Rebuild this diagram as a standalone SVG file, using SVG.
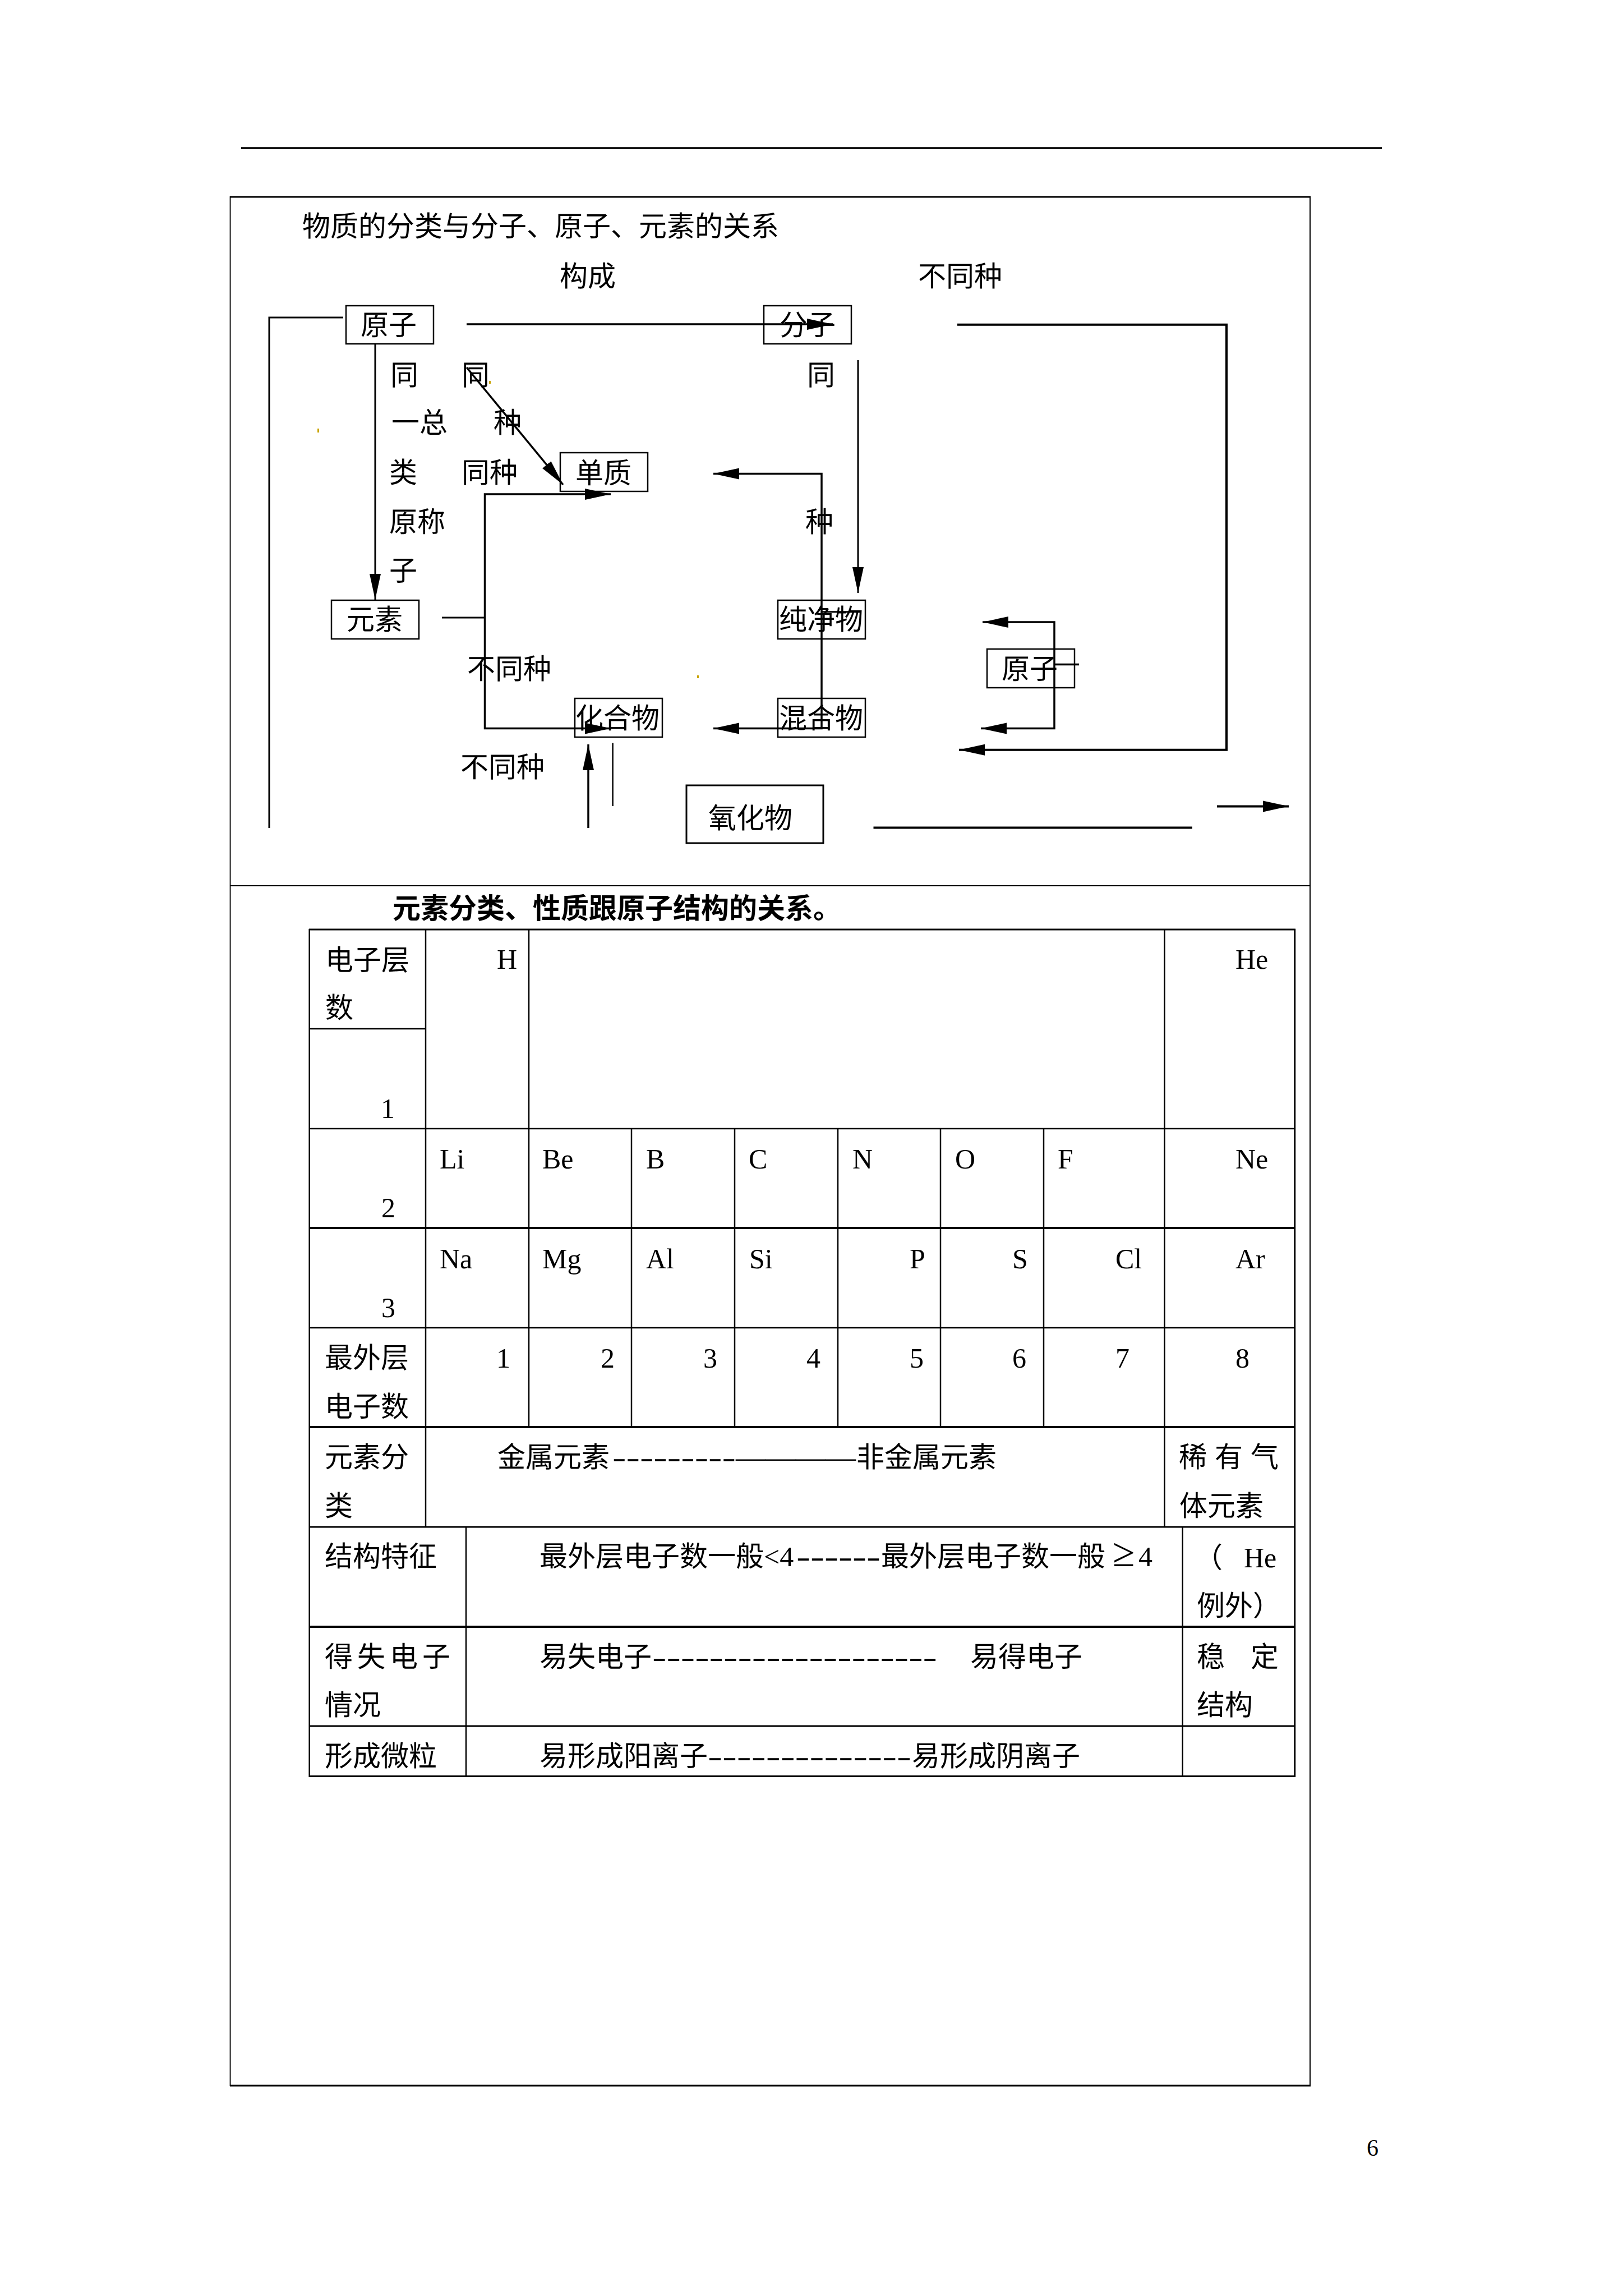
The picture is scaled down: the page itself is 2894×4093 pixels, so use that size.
<svg xmlns="http://www.w3.org/2000/svg" width="2894" height="4093" viewBox="0 0 2894 4093">
<style>
.t{font-family:"Liberation Serif","Noto Sans CJK SC",serif;font-size:50px;fill:#000}
.b{font-weight:bold}
.box{fill:none;stroke:#000;stroke-width:2.5}
.ln{fill:none;stroke:#000;stroke-width:3.5}
.th{fill:none;stroke:#000;stroke-width:2.5}
.tb{stroke:#000;stroke-width:2.5}
.tk{stroke:#000;stroke-width:3.8}
</style>
<defs>
<marker id="ah" markerUnits="userSpaceOnUse" markerWidth="48" markerHeight="22" refX="46" refY="11" orient="auto">
<path d="M0,1 L46,11 L0,21 z" fill="#000"/>
</marker>
</defs>
<rect x="0" y="0" width="2894" height="4093" fill="#fff"/>
<g id="page">
<line x1="430" y1="264" x2="2464" y2="264" stroke="#000" stroke-width="3.5"/>
<line x1="410" y1="351" x2="2337" y2="351" stroke="#000" stroke-width="3"/>
<line x1="410" y1="3718" x2="2337" y2="3718" stroke="#000" stroke-width="3"/>
<line x1="410.5" y1="350" x2="410.5" y2="3719" stroke="#000" stroke-width="1.8"/>
<line x1="2336" y1="350" x2="2336" y2="3719" stroke="#000" stroke-width="2"/>
<line x1="410" y1="1579" x2="2336" y2="1579" stroke="#000" stroke-width="2.2"/>
<text class="t" x="2437" y="3843" style="font-size:42px">6</text>
<rect x="566" y="764" width="3" height="7" fill="#c9a400"/>
<rect x="872" y="679" width="3" height="5" fill="#c9a400"/>
<rect x="1243" y="1204" width="3" height="5" fill="#c9a400"/>
</g>
<g id="section1-labels">
<text class="t" x="539" y="421">物质的分类与分子、原子、元素的关系</text>
<text class="t" x="998" y="510">构成</text>
<text class="t" x="1637" y="510">不同种</text>
<text class="t" x="696" y="686">同</text>
<text class="t" x="698" y="771">一总</text>
<text class="t" x="694" y="860">类</text>
<text class="t" x="694" y="948">原称</text>
<text class="t" x="694" y="1035">子</text>
<text class="t" x="823" y="686">同</text>
<text class="t" x="880" y="771">种</text>
<text class="t" x="823" y="860">同种</text>
<text class="t" x="1439" y="686">同</text>
<text class="t" x="1436" y="948">种</text>
<text class="t" x="833" y="1210">不同种</text>
<text class="t" x="821" y="1385">不同种</text>
</g>
<g id="node-yuanzi">
<rect class="box" x="617" y="545" width="156" height="68"/>
<text class="t" x="643" y="597">原子</text>
</g>
<g id="node-fenzi">
<rect class="box" x="1362" y="545" width="156" height="68"/>
<text class="t" x="1390" y="597">分子</text>
</g>
<g id="node-danzhi">
<rect class="box" x="999" y="807" width="156" height="69"/>
<text class="t" x="1026" y="861">单质</text>
</g>
<g id="node-yuansu">
<rect class="box" x="591" y="1070" width="156" height="69"/>
<text class="t" x="618" y="1122">元素</text>
</g>
<g id="node-chunjingwu">
<rect class="box" x="1387" y="1070" width="156" height="69"/>
<text class="t" x="1389" y="1122">纯净物</text>
</g>
<g id="node-huahewu">
<rect class="box" x="1025" y="1245" width="156" height="69"/>
<text class="t" x="1026" y="1298">化合物</text>
</g>
<g id="node-hunhewu">
<rect class="box" x="1387" y="1245" width="156" height="69"/>
<text class="t" x="1389" y="1298">混合物</text>
</g>
<g id="node-yanghuawu">
<rect class="box" x="1224" y="1400" width="244" height="103" style="stroke-width:3"/>
<text class="t" x="1263" y="1476">氧化物</text>
</g>
<g id="node-yuanzi2">
<rect class="box" x="1760" y="1157" width="156" height="69"/>
<text class="t" x="1786" y="1210">原子</text>
</g>
<g id="connectors">
<path class="ln" d="M832,578 H1485" marker-end="url(#ah)"/>
<path class="ln" style="stroke-width:3" d="M612,566 H480 V1476"/>
<path class="ln" style="stroke-width:3" d="M669,613 V1069" marker-end="url(#ah)"/>
<path class="ln" d="M832,655 L1004,864" marker-end="url(#ah)"/>
<path class="ln" d="M864.5,1100 V881 H1089" marker-end="url(#ah)"/>
<path class="ln" d="M864.5,1100 V1298.5 H1089" marker-end="url(#ah)"/>
<path class="ln" style="stroke-width:3" d="M788,1101 H864.5"/>
<path class="ln" d="M1465,1090 V844.5 H1272" marker-end="url(#ah)"/>
<path class="ln" d="M1465,1090 V1298.5 H1272" marker-end="url(#ah)"/>
<path class="ln" style="stroke-width:3" d="M1465,1090.7 H1535"/>
<path class="ln" style="stroke-width:3" d="M1530,642 V1057" marker-end="url(#ah)"/>
<path class="ln" style="stroke-width:4" d="M1707,578.8 H2187 V1336.7 H1710" marker-end="url(#ah)"/>
<path class="ln" d="M1880,1184 V1109 H1752" marker-end="url(#ah)"/>
<path class="ln" d="M1880,1184 V1298.5 H1749" marker-end="url(#ah)"/>
<path class="ln" d="M1880,1184.4 H1924"/>
<path class="ln" d="M1049,1476 V1327" marker-end="url(#ah)"/>
<path class="ln" style="stroke-width:2.5" d="M1092.6,1324.5 V1437"/>
<path class="ln" style="stroke-width:4" d="M1557.5,1475.6 H2126"/>
<path class="ln" style="stroke-width:4" d="M2170,1437.4 H2298" marker-end="url(#ah)"/>
</g>
<g id="table">
<text class="t b" x="700" y="1637">元素分类、性质跟原子结构的关系。</text>
<line class="tb" x1="551" y1="1657" x2="2310" y2="1657" style="stroke-width:3"/>
<line class="tb" x1="551" y1="1834" x2="759" y2="1834"/>
<line class="tb" x1="551" y1="2012" x2="2310" y2="2012"/>
<line class="tk" x1="551" y1="2189" x2="2310" y2="2189"/>
<line class="tb" x1="551" y1="2367" x2="2310" y2="2367"/>
<line class="tk" x1="551" y1="2544" x2="2310" y2="2544"/>
<line class="tb" x1="551" y1="2722" x2="2310" y2="2722" style="stroke-width:3"/>
<line class="tk" x1="551" y1="2900" x2="2310" y2="2900"/>
<line class="tb" x1="551" y1="3077" x2="2310" y2="3077" style="stroke-width:3"/>
<line class="tb" x1="551" y1="3166.5" x2="2310" y2="3166.5" style="stroke-width:3"/>
<line class="tb" x1="551.7" y1="1656" x2="551.7" y2="3168"/>
<line class="tb" x1="2308.7" y1="1656" x2="2308.7" y2="3168" style="stroke-width:3"/>
<line class="tb" x1="759" y1="1657" x2="759" y2="2722"/>
<line class="tb" x1="943" y1="1657" x2="943" y2="2544"/>
<line class="tb" x1="1126" y1="2012" x2="1126" y2="2544"/>
<line class="tb" x1="1310" y1="2012" x2="1310" y2="2544"/>
<line class="tb" x1="1494" y1="2012" x2="1494" y2="2544"/>
<line class="tb" x1="1677" y1="2012" x2="1677" y2="2544"/>
<line class="tb" x1="1861" y1="2012" x2="1861" y2="2544"/>
<line class="tb" x1="2076.5" y1="1657" x2="2076.5" y2="2722"/>
<line class="tb" x1="831" y1="2722" x2="831" y2="3166.5"/>
<line class="tb" x1="2108.7" y1="2722" x2="2108.7" y2="3166.5"/>

<text class="t" x="580" y="1729">电子层</text>
<text class="t" x="580" y="1814">数</text>
<text class="t" x="679" y="1993">1</text>
<text class="t" x="886" y="1727">H</text>
<text class="t" x="2203" y="1727">He</text>

<text class="t" x="680" y="2170">2</text>
<text class="t" x="784" y="2083">Li</text>
<text class="t" x="967" y="2083">Be</text>
<text class="t" x="1152" y="2083">B</text>
<text class="t" x="1335" y="2083">C</text>
<text class="t" x="1520" y="2083">N</text>
<text class="t" x="1703" y="2083">O</text>
<text class="t" x="1886" y="2083">F</text>
<text class="t" x="2203" y="2083">Ne</text>

<text class="t" x="680" y="2348">3</text>
<text class="t" x="784" y="2261">Na</text>
<text class="t" x="967" y="2261">Mg</text>
<text class="t" x="1152" y="2261">Al</text>
<text class="t" x="1336" y="2261">Si</text>
<text class="t" x="1622" y="2261">P</text>
<text class="t" x="1805" y="2261">S</text>
<text class="t" x="1989" y="2261">Cl</text>
<text class="t" x="2203" y="2261">Ar</text>

<text class="t" x="579" y="2438">最外层</text>
<text class="t" x="579" y="2525">电子数</text>
<text class="t" x="885" y="2438">1</text>
<text class="t" x="1071" y="2438">2</text>
<text class="t" x="1254" y="2438">3</text>
<text class="t" x="1438" y="2438">4</text>
<text class="t" x="1622" y="2438">5</text>
<text class="t" x="1805" y="2438">6</text>
<text class="t" x="1989" y="2438">7</text>
<text class="t" x="2203" y="2438">8</text>

<text class="t" x="579" y="2615">元素分</text>
<text class="t" x="579" y="2702">类</text>
<text class="t" y="2615"><tspan x="887">金属元素</tspan><tspan x="1092" textLength="220" lengthAdjust="spacingAndGlyphs">---------</tspan><tspan x="1312" textLength="214" lengthAdjust="spacingAndGlyphs">————</tspan><tspan x="1527">非金属元素</tspan></text>
<text class="t" y="2615"><tspan x="2102">稀</tspan><tspan x="2166">有</tspan><tspan x="2230">气</tspan></text>
<text class="t" x="2103" y="2702">体元素</text>

<text class="t" x="579" y="2792">结构特征</text>
<text class="t" y="2792"><tspan x="962">最外层电子数一般</tspan><tspan x="1362">&lt;4</tspan><tspan x="1420" textLength="150" lengthAdjust="spacingAndGlyphs">------</tspan><tspan x="1571">最外层电子数一般</tspan><tspan x="1984" style="font-size:72px">≥</tspan><tspan x="2030">4</tspan></text>
<text class="t" y="2794"><tspan x="2130">（</tspan><tspan x="2218">He</tspan></text>
<text class="t" x="2134" y="2880">例外）</text>

<text class="t" y="2971"><tspan x="579">得</tspan><tspan x="637">失</tspan><tspan x="695">电</tspan><tspan x="753">子</tspan></text>
<text class="t" x="579" y="3057">情况</text>
<text class="t" y="2971"><tspan x="962">易失电子</tspan><tspan x="1163" textLength="508" lengthAdjust="spacingAndGlyphs">--------------------</tspan><tspan x="1730">易得电子</tspan></text>
<text class="t" y="2971"><tspan x="2134">稳</tspan><tspan x="2230">定</tspan></text>
<text class="t" x="2134" y="3057">结构</text>

<text class="t" x="579" y="3148">形成微粒</text>
<text class="t" y="3148"><tspan x="962">易形成阳离子</tspan><tspan x="1262" textLength="363" lengthAdjust="spacingAndGlyphs">--------------</tspan><tspan x="1626">易形成阴离子</tspan></text>
</g>
</svg>
